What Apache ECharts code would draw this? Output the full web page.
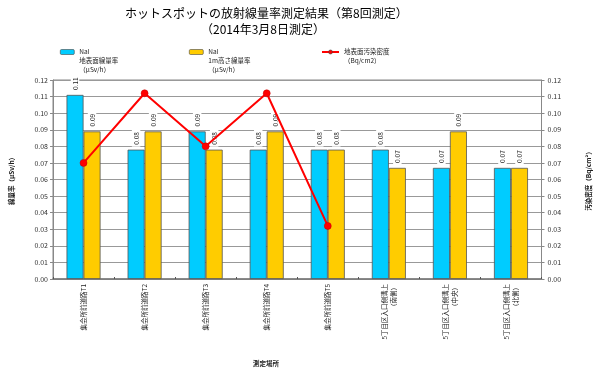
<!DOCTYPE html>
<html>
<head>
<meta charset="utf-8">
<script src="https://cdn.jsdelivr.net/npm/echarts@6/dist/echarts.min.js"></script>
<style>html,body{margin:0;padding:0;background:#fff}#c{width:600px;height:374px}</style>
</head>
<body>
<div id="c"></div>
<script>
const categories = ['集会所前道路T1','集会所前道路T2','集会所前道路T3','集会所前道路T4','集会所前道路T5','5丁目区入口側溝上\n（南側）','5丁目区入口側溝上\n（中央）','5丁目区入口側溝上\n（北側）'];
const groundRate = [0.111, 0.078, 0.089, 0.078, 0.078, 0.078, 0.067, 0.067];
const heightRate = [0.089, 0.089, 0.078, 0.089, 0.078, 0.067, 0.089, 0.067];
const contamination = [0.070, 0.112, 0.080, 0.112, 0.032, null, null, null];
const seriesNames = ['NaI\n地表面線量率\n（μSv/h）', 'NaI\n1m高さ線量率\n（μSv/h）', '地表面汚染密度\n（Bq/cm2）'];
const titleLines = ['ホットスポットの放射線量率測定結果（第8回測定）', '（2014年3月8日測定）'];

const FONT = '"Noto Sans CJK JP", "Liberation Sans", sans-serif';
const chart = echarts.init(document.getElementById('c'), null, {renderer: 'canvas'});
const barLabel = {
  show: true, position: 'top', rotate: 90, align: 'left', verticalAlign: 'middle',
  distance: 3, fontSize: 6.5, color: '#222', fontFamily: FONT,
  backgroundColor: '#fff', padding: [1, 2],
  formatter: p => p.value.toFixed(2)
};
const LH = 9;
function legendFor(left, name, iw) {
  const nLines = name.split('\n').length;
  // pad with empty lines above so the first line sits level with the icon
  const pad = '\n'.repeat(nLines - 1);
  return {
    top: 47 - (2 * nLines - 1) * LH / 2, left: left, itemWidth: iw, itemHeight: 5,
    textStyle: {fontSize: 6.5, color: '#222', fontFamily: FONT, lineHeight: LH},
    itemStyle: {borderColor: '#444', borderWidth: 0.6},
    formatter: n => pad + n,
    data: [name]
  };
}
chart.setOption({
  animation: false,
  backgroundColor: '#fff',
  textStyle: {fontFamily: FONT},
  title: [
    {text: titleLines[0], left: 120, top: 2, textStyle: {fontSize: 12, fontWeight: 'normal', color: '#000', fontFamily: FONT}},
    {text: titleLines[1], left: 196, top: 18, textStyle: {fontSize: 12, fontWeight: 'normal', color: '#000', fontFamily: FONT}}
  ],
  legend: [
    legendFor(55, seriesNames[0], 14),
    legendFor(184, seriesNames[1], 14),
    legendFor(316, seriesNames[2], 17)
  ],
  grid: {left: 53, right: 58, top: 80, bottom: 95, show: true, borderColor: '#888', borderWidth: 1},
  xAxis: {
    type: 'category', data: categories,
    axisLine: {lineStyle: {color: '#777', width: 1.5}},
    axisTick: {show: true, inside: true, length: 2, lineStyle: {color: '#555'}},
    axisLabel: {rotate: 90, fontSize: 6.5, color: '#222', fontFamily: FONT, margin: 5, interval: 0, lineHeight: 9}
  },
  yAxis: [
    {type: 'value', min: 0, max: 0.12, interval: 0.01,
     name: '線量率（μSv/h）', nameLocation: 'middle', nameGap: 38, nameRotate: 90,
     nameTextStyle: {fontSize: 6.5, color: '#222', fontWeight: 'bold', fontFamily: FONT},
     axisLine: {show: true, lineStyle: {color: '#888'}},
     axisTick: {show: true, length: 3, lineStyle: {color: '#888'}},
     axisLabel: {fontSize: 7, color: '#333', formatter: v => v.toFixed(2), margin: 5},
     splitLine: {lineStyle: {color: '#999', width: 1}}},
    {type: 'value', min: 0, max: 0.12, interval: 0.01,
     name: '汚染密度（Bq/cm²）', nameLocation: 'middle', nameGap: 44, nameRotate: 90,
     nameTextStyle: {fontSize: 6.5, color: '#222', fontWeight: 'bold', fontFamily: FONT},
     axisLine: {show: true, lineStyle: {color: '#888'}},
     axisTick: {show: true, length: 3, lineStyle: {color: '#888'}},
     axisLabel: {fontSize: 7, color: '#333', formatter: v => v.toFixed(2), margin: 6},
     splitLine: {show: false}}
  ],
  graphic: [{type: 'text', left: 253, top: 360, style: {text: '測定場所', fontSize: 6.5, fill: '#222', fontFamily: FONT, fontWeight: 'bold'}}],
  series: [
    {name: seriesNames[0], type: 'bar', data: groundRate, barWidth: 17, barGap: '0%',
     itemStyle: {color: '#00CCFF', borderColor: '#555', borderWidth: 0.8}, label: barLabel, z: 2},
    {name: seriesNames[1], type: 'bar', data: heightRate, barWidth: 17, barGap: '0%',
     itemStyle: {color: '#FFCC00', borderColor: '#555', borderWidth: 0.8}, label: barLabel, z: 2},
    {name: seriesNames[2], type: 'line', yAxisIndex: 1, data: contamination,
     symbol: 'circle', symbolSize: 7, lineStyle: {color: '#FF0000', width: 2},
     itemStyle: {color: '#FF0000', borderColor: '#C00000', borderWidth: 0.5}, z: 2}
  ]
});
</script>
</body>
</html>
